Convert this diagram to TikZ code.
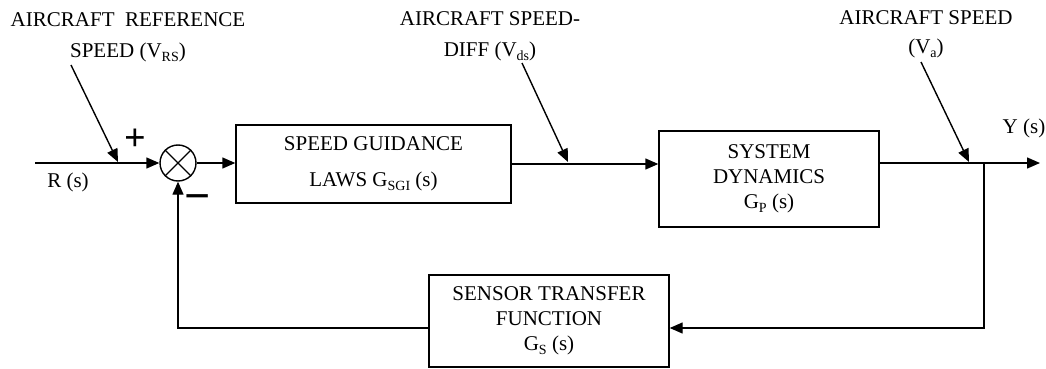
\documentclass[tikz,border=0pt]{standalone}
\usepackage{fontspec}
\setmainfont{Liberation Serif}
\usetikzlibrary{arrows.meta,calc}
\newcommand{\lsub}[1]{\raisebox{-0.4ex}{\fontsize{14}{14}\selectfont #1}}
\begin{document}
\begin{tikzpicture}[x=1pt,y=-1pt, font=\fontsize{21}{25}\selectfont, line width=1.4pt,
  arr/.style={-{Triangle[length=13pt,width=11pt]}},
  blk/.style={draw, align=center, inner sep=0pt},
  lbl/.style={align=center, inner sep=0pt}]
\useasboundingbox (0,0) rectangle (1046,369);
% blocks
\node[draw, circle, minimum size=36pt, inner sep=0pt] (sum) at (178,163) {};
\draw (sum.45) -- (sum.225) (sum.135) -- (sum.315);
\node[blk, minimum width=275pt, minimum height=78pt] (b1) at (373.5,164)
  {SPEED GUIDANCE\\[11pt]LAWS G\lsub{SGI} (s)};
\node[blk, minimum width=220pt, minimum height=96pt] (b2) at (769,179)
  {SYSTEM\\DYNAMICS\\G\lsub{P} (s)};
\node[blk, minimum width=240pt, minimum height=92pt] (s) at (549,321)
  {SENSOR TRANSFER\\FUNCTION\\G\lsub{S} (s)};
% labels
\node[lbl] (lrs) at (128,37) {AIRCRAFT\ \ REFERENCE\\[6pt]SPEED (V\lsub{RS})};
\node[lbl] (lds) at (490,36) {AIRCRAFT SPEED-\\[6pt]DIFF (V\lsub{ds})};
\node[lbl] (la) at (926,34) {AIRCRAFT SPEED\\[4pt](V\lsub{a})};
\node[lbl] (lr) at (68,182) {R (s)};
\node[lbl] (ly) at (1024,128) {Y (s)};
\node[lbl, font=\fontsize{38}{38}\selectfont\bfseries] (plus) at (135,140) {+};
\node[lbl, font=\fontsize{46}{46}\selectfont\bfseries] (minus) at (198,203) {−};
% coordinates
\coordinate (in) at (35,163);
\coordinate (rs0) at (71,65);
\coordinate (rs1) at (118,162);
\coordinate (ds0) at (522,63);
\coordinate (ds1) at (568,162);
\coordinate (a0) at (921,62);
\coordinate (a1) at (969,162);
\coordinate (br) at (984,163);
\coordinate (out) at (1040,163);
\coordinate (fb) at (984,328);
% connectors
\draw[arr] (in) -- (sum.west);
\draw[arr] (rs0) -- (rs1);
\draw[arr] (sum.east) -- (sum.east -| b1.west);
\draw[arr] (b1.east) -- (b1.east -| b2.west);
\draw[arr] (ds0) -- (ds1);
\draw[arr] (b2.east |- br) -- (out);
\draw[arr] (a0) -- (a1);
\draw[arr] (br) -- (fb) -- (fb -| s.east);
\draw[arr] (s.west |- fb) -| (sum.south);
\end{tikzpicture}
\end{document}
